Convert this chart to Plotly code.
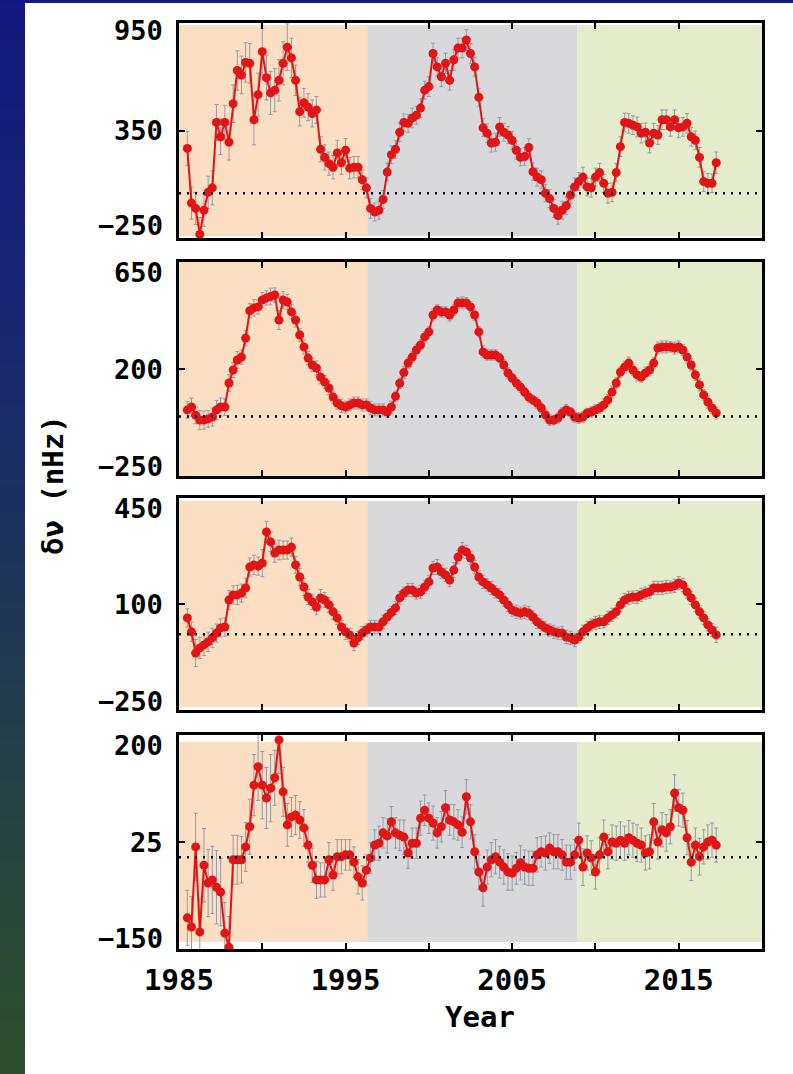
import plotly.graph_objects as go

# ---------------- data ----------------
YEARS = [
    1985.5, 1985.75,
    1986.0, 1986.25, 1986.5, 1986.75,
    1987.0, 1987.25, 1987.5, 1987.75,
    1988.0, 1988.25, 1988.5, 1988.75,
    1989.0, 1989.25, 1989.5, 1989.75,
    1990.0, 1990.25, 1990.5, 1990.75,
    1991.0, 1991.25, 1991.5, 1991.75,
    1992.0, 1992.25, 1992.5, 1992.75,
    1993.0, 1993.25, 1993.5, 1993.75,
    1994.0, 1994.25, 1994.5, 1994.75,
    1995.0, 1995.25, 1995.5, 1995.75,
    1996.0, 1996.25, 1996.5, 1996.75,
    1997.0, 1997.25, 1997.5, 1997.75,
    1998.0, 1998.25, 1998.5, 1998.75,
    1999.0, 1999.25, 1999.5, 1999.75,
    2000.0, 2000.25, 2000.5, 2000.75,
    2001.0, 2001.25, 2001.5, 2001.75,
    2002.0, 2002.25, 2002.5, 2002.75,
    2003.0, 2003.25, 2003.5, 2003.75,
    2004.0, 2004.25, 2004.5, 2004.75,
    2005.0, 2005.25, 2005.5, 2005.75,
    2006.0, 2006.25, 2006.5, 2006.75,
    2007.0, 2007.25, 2007.5, 2007.75,
    2008.0, 2008.25, 2008.5, 2008.75,
    2009.0, 2009.25, 2009.5, 2009.75,
    2010.0, 2010.25, 2010.5, 2010.75,
    2011.0, 2011.25, 2011.5, 2011.75,
    2012.0, 2012.25, 2012.5, 2012.75,
    2013.0, 2013.25, 2013.5, 2013.75,
    2014.0, 2014.25, 2014.5, 2014.75,
    2015.0, 2015.25, 2015.5, 2015.75,
    2016.0, 2016.25, 2016.5, 2016.75,
    2017.0, 2017.25,
]

DNU_1 = [
    250, -55, -85, -230, -95, 5, 30, 395, 315, 395,
    285, 500, 685, 660, 730, 725, 410, 550,
    790, 645, 560, 575, 630, 725, 815, 755,
    630, 455, 505, 480, 445, 465, 245, 200,
    165, 145, 225, 170, 240, 140, 145, 145,
    75, 30, -85, -105, -95, -35, 118, 215,
    245, 340, 395, 390, 420, 435, 475, 575,
    595, 780, 705, 650, 725, 630, 745, 810,
    810, 855, 780, 705, 535, 365, 335, 280,
    285, 370, 340, 325, 295, 240, 200, 205,
    255, 120, 90, 75, 0, -30, -85, -125,
    -95, -70, -10, 35, 65, 90, 35, 30,
    90, 115, 55, 0, 5, 115, 260, 395,
    390, 380, 370, 335, 340, 280, 335, 325,
    410, 410, 370, 410, 365, 370, 390, 315,
    295, 200, 65, 55, 55, 170,
]
ERR_1 = [
    95, 90, 90, 95, 90, 90, 95, 100, 100, 95,
    100, 105, 110, 105, 110, 110, 140, 120,
    130, 125, 120, 120, 115, 120, 130, 110,
    85, 80, 80, 75, 75, 75, 70, 70,
    65, 65, 70, 65, 65, 60, 60, 60,
    55, 55, 55, 50, 50, 50, 50, 50,
    50, 52, 48, 50, 55, 50, 52, 50,
    55, 58, 52, 55, 57, 55, 58, 55,
    55, 58, 55, 52, 50, 50, 52, 50,
    50, 52, 50, 48, 50, 50, 48, 50,
    50, 48, 50, 50, 48, 50, 50, 48,
    50, 50, 48, 50, 50, 55, 50, 52,
    50, 52, 50, 55, 52, 50, 55, 52,
    55, 52, 55, 55, 52, 55, 55, 52,
    55, 55, 52, 55, 55, 52, 55, 52,
    52, 55, 55, 55, 52, 60,
]

DNU_2 = [
    28, 40, 5, -15, -15, -10, -2, 28, 40, 40,
    141, 196, 238, 250, 330, 445, 457, 461,
    490, 499, 505, 511, 406, 490, 482, 440,
    406, 343, 293, 246, 217, 204, 166, 145,
    120, 82, 57, 45, 40, 49, 57, 57,
    49, 49, 36, 28, 28, 28, 19, 40,
    85, 140, 185, 225, 250, 280, 301, 335,
    356, 427, 448, 440, 440, 427, 448, 478,
    478, 478, 461, 427, 356, 272, 259, 259,
    259, 246, 217, 183, 162, 141, 124, 103,
    82, 70, 57, 36, 7, -15, -15, -6,
    15, 28, 19, -2, -6, -2, 15, 19,
    28, 36, 49, 70, 103, 141, 187, 208,
    225, 196, 175, 166, 183, 196, 225, 288,
    293, 293, 293, 288, 293, 280, 250, 217,
    175, 133, 91, 61, 36, 15,
]
ERR_2 = [
    35, 38, 35, 40, 38, 35, 38, 40, 38, 35,
    35, 32, 35, 30, 32, 30, 35, 30,
    32, 30, 35, 30, 40, 35, 32, 30,
    30, 28, 30, 28, 28, 30, 28, 28,
    28, 25, 25, 28, 25, 25, 25, 25,
    25, 25, 28, 25, 25, 25, 22, 25,
    22, 22, 25, 22, 22, 22, 22, 22,
    22, 25, 22, 22, 22, 25, 22, 22,
    25, 22, 22, 22, 22, 25, 22, 22,
    22, 20, 22, 22, 20, 22, 22, 20,
    22, 20, 22, 20, 22, 22, 20, 22,
    22, 22, 20, 22, 22, 22, 20, 22,
    22, 22, 25, 22, 25, 22, 22, 25,
    25, 22, 25, 22, 25, 25, 22, 25,
    25, 25, 22, 25, 25, 22, 25, 25,
    22, 25, 22, 25, 22, 25,
]

DNU_3 = [
    54, 8, -62, -45, -35, -25, -12, 4, 21, 24,
    113, 130, 130, 136, 153, 222, 229, 225,
    235, 338, 305, 268, 278, 278, 278, 288,
    229, 189, 156, 123, 107, 90, 120, 113,
    97, 74, 54, 24, 8, -2, -29, -12,
    4, 14, 24, 24, 24, 41, 57, 72,
    87, 120, 136, 146, 146, 136, 140, 156,
    173, 219, 222, 206, 196, 179, 212, 255,
    278, 272, 252, 222, 189, 173, 163, 153,
    140, 130, 113, 97, 80, 74, 70, 74,
    70, 57, 41, 31, 21, 14, 8, 4,
    4, -9, -12, -19, -9, 8, 21, 31,
    37, 41, 41, 54, 64, 74, 97, 113,
    120, 123, 123, 130, 136, 140, 153, 153,
    153, 156, 156, 160, 169, 163, 140, 120,
    97, 74, 54, 31, 14, -2,
]
ERR_3 = [
    30, 32, 45, 35, 35, 32, 32, 30, 30, 30,
    32, 30, 32, 30, 32, 30, 32, 30,
    45, 35, 32, 30, 32, 30, 30, 30,
    28, 28, 28, 25, 25, 25, 28, 25,
    25, 25, 22, 22, 25, 22, 25, 22,
    22, 20, 22, 22, 20, 22, 22, 20,
    22, 22, 20, 22, 22, 20, 22, 22,
    22, 22, 25, 22, 22, 22, 25, 22,
    25, 22, 22, 22, 22, 22, 20, 22,
    20, 22, 20, 22, 20, 22, 20, 22,
    22, 20, 22, 20, 22, 20, 22, 20,
    22, 22, 22, 22, 20, 22, 22, 20,
    22, 22, 20, 22, 22, 20, 22, 22,
    22, 20, 22, 22, 20, 22, 22, 22,
    22, 22, 20, 22, 22, 22, 20, 22,
    22, 20, 22, 20, 22, 25,
]

DNU_4 = [
    -99, -114, 17, -122, -13, -42, -37, -49, -57, -124,
    -147, -4, -4, -4, 17, 50, 118, 148,
    118, 97, 113, 130, 192, 107, 53, 66,
    69, 61, 48, 20, -13, -37, -37, -37,
    -4, -29, 1, 1, 4, 4, -8, -32,
    -42, -21, -1, 20, 23, 40, 35, 58,
    40, 36, 33, 7, 23, 23, 64, 77,
    64, 56, 40, 50, 81, 61, 58, 53,
    41, 99, 58, 9, -24, -50, -16, -4,
    1, -8, -16, -24, -26, -18, -9, -16,
    -18, -18, 4, 9, 7, 15, 9, 9,
    4, -8, -8, 4, 28, -16, 7, -1,
    -24, 4, 33, 9, 25, 23, 28, 23,
    32, 28, 23, 20, 7, 9, 58, 25,
    45, 40, 50, 105, 81, 77, 32, -8,
    20, 1, 17, 25, 28, 20,
]
ERR_4 = [
    45, 50, 55, 55, 60, 55, 55, 60, 55, 50,
    50, 40, 40, 38, 40, 45, 50, 55,
    55, 50, 55, 45, 55, 40, 35, 32,
    32, 30, 30, 28, 28, 30, 28, 28,
    28, 25, 28, 28, 25, 25, 25, 28,
    28, 25, 25, 25, 28, 25, 28, 25,
    25, 25, 28, 25, 25, 25, 28, 25,
    25, 28, 25, 25, 28, 25, 28, 25,
    25, 28, 28, 28, 28, 30, 28, 28,
    28, 26, 28, 30, 28, 26, 28, 28,
    28, 28, 28, 25, 28, 25, 28, 28,
    25, 28, 28, 25, 28, 30, 28, 28,
    28, 28, 28, 28, 28, 28, 30, 28,
    28, 28, 30, 28, 28, 28, 30, 28,
    28, 30, 28, 30, 30, 28, 28, 30,
    28, 30, 28, 28, 28, 28,
]

SERIES = [DNU_1, DNU_2, DNU_3, DNU_4]
ERRORS = [ERR_1, ERR_2, ERR_3, ERR_4]

Y_RANGES = [(-250, 950), (-250, 650), (-250, 450), (-150, 200)]
Y_TICKS = [[-250, 350, 950], [-250, 200, 650], [-250, 100, 450], [-150, 25, 200]]
Y_TICK_TEXT = [["\u2212250", "350", "950"], ["\u2212250", "200", "650"],
               ["\u2212250", "100", "450"], ["\u2212150", "25", "200"]]

X_TICKS = [1985, 1990, 1995, 2000, 2005, 2010, 2015, 2020]
X_TICK_TEXT = ["1985", "", "1995", "", "2005", "", "2015", ""]
X_MINOR_TICKS = [1986, 1987, 1988, 1989, 1991, 1992, 1993, 1994, 1996, 1997, 1998, 1999,
                 2001, 2002, 2003, 2004, 2006, 2007, 2008, 2009, 2011, 2012, 2013, 2014,
                 2016, 2017, 2018, 2019]

CYCLE_EDGES = [1985, 1996.3, 2008.9, 2020]
CYCLE_COLORS = ["#FCDEC2", "#D9D9DB", "#E4ECCB"]

for s, e in zip(SERIES, ERRORS):
    assert len(s) == len(YEARS) and len(e) == len(YEARS)

# ---------------- layout geometry ----------------
W, H = 793, 1074
X_LEFT, X_RIGHT = 179, 762
PANELS_PX = [(23, 238), (262, 476), (498, 710), (735, 949)]  # top, bottom
SHADE_INSET = [2, 0, 3, 7]
LABEL_SHIFT = [(13, -7), (10, -10), (9, -10), (11, -10)]  # (bottom, top) yshift
MINOR_TICK_PANELS = [1, 2]

RED = "rgb(226,20,22)"
ERR_COLOR = "rgb(150,155,165)"
FONT = "DejaVu Sans Mono"

fig = go.Figure()
layout = dict(
    template="none",
    width=W, height=H, autosize=False,
    margin=dict(l=0, r=0, t=0, b=0, pad=0, autoexpand=False),
    paper_bgcolor="white", plot_bgcolor="white",
    showlegend=False,
    font=dict(family=FONT, color="black", size=18, weight="bold"),
)
shapes = []
annotations = []

# background decoration: top bar and left gradient strip
stops = [(0.0, (20, 24, 128)), (0.35, (26, 40, 108)), (0.55, (32, 54, 88)),
         (0.75, (40, 66, 66)), (1.0, (48, 78, 46))]


def grad(t):
    for (t0, c0), (t1, c1) in zip(stops[:-1], stops[1:]):
        if t0 <= t <= t1:
            f = (t - t0) / (t1 - t0)
            return "rgb(%d,%d,%d)" % tuple(round(a + (b - a) * f) for a, b in zip(c0, c1))
    return "rgb(%d,%d,%d)" % stops[-1][1]


NSLICE = 80
for i in range(NSLICE):
    t = (i + 0.5) / NSLICE
    shapes.append(dict(type="rect", xref="paper", yref="paper",
                       x0=0, x1=25 / W, y0=1 - (i + 1) / NSLICE - 0.001, y1=1 - i / NSLICE,
                       fillcolor=grad(t), line=dict(width=0), layer="below"))
shapes.append(dict(type="rect", xref="paper", yref="paper", x0=0, x1=1,
                   y0=1 - 3 / H, y1=1, fillcolor="rgb(20,22,130)", line=dict(width=0),
                   layer="below"))

for k in range(4):
    n = "" if k == 0 else str(k + 1)
    top, bot = PANELS_PX[k]
    ydom = [1 - bot / H, 1 - top / H]
    xa = dict(
        domain=[X_LEFT / W, X_RIGHT / W], range=[1985, 2020], anchor="y" + n,
        automargin=False,
        showgrid=False, zeroline=False,
        showline=True, linewidth=3, linecolor="black", mirror="ticks",
        ticks="inside", ticklen=6, tickwidth=2, tickcolor="black",
        tickmode="array", tickvals=X_TICKS, ticktext=X_TICK_TEXT,
        showticklabels=(k == 3),
        tickfont=dict(family=FONT, size=29, color="black", weight="bold"),
        ticklabelstandoff=3,
    )
    ya = dict(
        domain=ydom, range=list(Y_RANGES[k]), anchor="x" + n,
        automargin=False,
        showgrid=False, zeroline=False,
        showline=True, linewidth=3, linecolor="black", mirror="ticks",
        ticks="inside", ticklen=6, tickwidth=2, tickcolor="black",
        tickmode="array", tickvals=Y_TICKS[k], showticklabels=False,
    )
    layout["xaxis" + n] = xa
    layout["yaxis" + n] = ya

    # cycle shading
    inset = SHADE_INSET[k] / (bot - top)
    for (x0, x1), col in zip(zip(CYCLE_EDGES[:-1], CYCLE_EDGES[1:]), CYCLE_COLORS):
        shapes.append(dict(type="rect", xref="x" + n, yref="y" + n + " domain",
                           x0=x0, x1=x1, y0=inset, y1=1 - inset,
                           fillcolor=col, line=dict(width=0), layer="below"))
    # zero line
    shapes.append(dict(type="line", xref="x" + n + " domain", yref="y" + n,
                       x0=0, x1=1, y0=0, y1=0,
                       line=dict(color="black", width=2.5, dash="2px,6px"),
                       layer="above"))

    # y tick labels
    for j, (v, txt) in enumerate(zip(Y_TICKS[k], Y_TICK_TEXT[k])):
        ys = LABEL_SHIFT[k][0] if j == 0 else (LABEL_SHIFT[k][1] if j == 2 else 0)
        annotations.append(dict(xref="paper", yref="y" + n, x=165 / W, y=v,
                                xanchor="right", yanchor="middle", yshift=ys,
                                text=txt, showarrow=False,
                                font=dict(family=FONT, size=27, color="black", weight="bold")))

    fig.add_trace(go.Scatter(
        x=YEARS, y=SERIES[k], mode="lines+markers",
        xaxis="x" + n, yaxis="y" + n,
        line=dict(color=RED, width=2),
        marker=dict(color=RED, size=9, line=dict(width=0)),
        error_y=dict(type="data", array=ERRORS[k], color=ERR_COLOR, thickness=1, width=2),
    ))

# yearly minor ticks along the bottom edge of panels 2 and 3
for m, k in enumerate(MINOR_TICK_PANELS):
    n = str(k + 1)
    layout["xaxis" + str(5 + m)] = dict(
        overlaying="x" + n, anchor="y" + n, side="bottom",
        domain=[X_LEFT / W, X_RIGHT / W], range=[1985, 2020], automargin=False,
        showgrid=False, zeroline=False, showline=False, showticklabels=False,
        ticks="inside", ticklen=3, tickwidth=2, tickcolor="black",
        tickmode="array", tickvals=X_MINOR_TICKS,
    )

annotations.append(dict(xref="paper", yref="paper", x=480 / W, y=1 - 1017 / H,
                        xanchor="center", yanchor="middle", text="Year", showarrow=False,
                        font=dict(family=FONT, size=29, color="black", weight="bold")))
annotations.append(dict(xref="paper", yref="paper", x=53 / W, y=1 - 485 / H,
                        xanchor="center", yanchor="middle", text="\u03b4\u03bd (nHz)",
                        textangle=-90, showarrow=False,
                        font=dict(family=FONT, size=29, color="black", weight="bold")))

layout["shapes"] = shapes
layout["annotations"] = annotations
fig.update_layout(**layout)
fig.write_html("out.html")
